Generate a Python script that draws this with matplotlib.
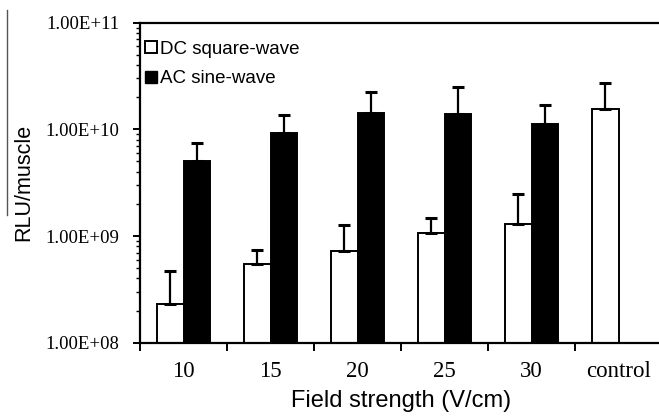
import numpy as np
import matplotlib
matplotlib.use("Agg")
import matplotlib.pyplot as plt
from matplotlib.lines import Line2D
from matplotlib.ticker import LogLocator, FixedLocator, NullFormatter

categories = ["10", "15", "20", "25", "30", "control"]

# DC square-wave (white bars), last one is the control
dc_mean = [2.3e8, 5.5e8, 7.2e8, 1.06e9, 1.30e9, 1.56e10]
dc_top = [4.7e8, 7.4e8, 1.27e9, 1.47e9, 2.5e9, 2.7e10]

# AC sine-wave (black bars), no control bar
ac_mean = [5.1e9, 9.3e9, 1.43e10, 1.39e10, 1.13e10]
ac_top = [7.5e9, 1.36e10, 2.23e10, 2.5e10, 1.69e10]

serif = ["Liberation Serif", "DejaVu Serif"]
sans = ["Liberation Sans", "DejaVu Sans"]

fig = plt.figure(figsize=(6.59, 4.20), dpi=100)
ax = fig.add_axes([140 / 659, 77.3 / 420, 522 / 659, 320 / 420])

x = np.arange(len(categories))
w = 0.30

dc_err = np.array(dc_top) - np.array(dc_mean)
ac_err = np.array(ac_top) - np.array(ac_mean)

ax.bar(x - w / 2, dc_mean, width=w, color="white", edgecolor="black",
       linewidth=1.4, label="DC square-wave", zorder=2)
ax.bar(x[:5] + w / 2, ac_mean, width=w, color="black", edgecolor="black",
       linewidth=1.4, label="AC sine-wave", zorder=2)

ax.errorbar(x - w / 2, dc_mean, yerr=[np.zeros(len(dc_err)), dc_err],
            fmt="none", ecolor="black", elinewidth=1.6, capsize=4,
            capthick=2.2, zorder=3)
ax.errorbar(x[:5] + w / 2, ac_mean, yerr=[np.zeros(len(ac_err)), ac_err],
            fmt="none", ecolor="black", elinewidth=1.6, capsize=4,
            capthick=2.2, zorder=3)

ax.set_yscale("log")
ax.set_ylim(1e8, 1e11)
ax.set_xlim(-0.5, 5.5)

ax.yaxis.set_minor_locator(LogLocator(base=10, subs=np.arange(2, 10), numticks=20))
ax.yaxis.set_minor_formatter(NullFormatter())
ax.set_yticks([1e8, 1e9, 1e10, 1e11])
ax.set_yticklabels(["1.00E+08", "1.00E+09", "1.00E+10", "1.00E+11"],
                   family=serif, fontsize=13.5)

ax.set_xticks(x)
ax.set_xticklabels(categories, family=serif, fontsize=16.5)
ax.xaxis.set_minor_locator(FixedLocator(np.arange(-0.5, 5.0, 1.0)))
ax.tick_params(axis="x", which="major", length=0, pad=13)
ax.tick_params(axis="x", which="minor", length=6, width=1.4, direction="out")
ax.tick_params(axis="y", which="major", length=5, width=1.4, direction="out", pad=10)
ax.tick_params(axis="y", which="minor", length=3, width=1.0, direction="out")

for side in ["left", "bottom", "top"]:
    ax.spines[side].set_linewidth(1.6)
ax.spines["right"].set_visible(False)

ax.set_ylabel("RLU/muscle", family=sans, fontsize=15.5, labelpad=8)
ax.set_xlabel("Field strength (V/cm)", family=sans, fontsize=17, labelpad=6)

handles = [
    Line2D([], [], marker="s", linestyle="none", markersize=9,
           markerfacecolor="white", markeredgecolor="black", markeredgewidth=1.4),
    Line2D([], [], marker="s", linestyle="none", markersize=9,
           markerfacecolor="black", markeredgecolor="black"),
]
ax.legend(handles, ["DC square-wave", "AC sine-wave"], loc="upper left",
          bbox_to_anchor=(-0.015, 0.985), frameon=False, handlelength=0.6,
          handletextpad=0.2, labelspacing=0.65, borderaxespad=0.3,
          prop={"family": sans, "size": 13.5})

# thin crop border line at the far left of the image
fig.add_artist(Line2D([7 / 659, 7 / 659], [1 - 10 / 420, 1 - 215 / 420],
                      color="#555555", linewidth=1.0))

fig.savefig("out.png", dpi=100)
